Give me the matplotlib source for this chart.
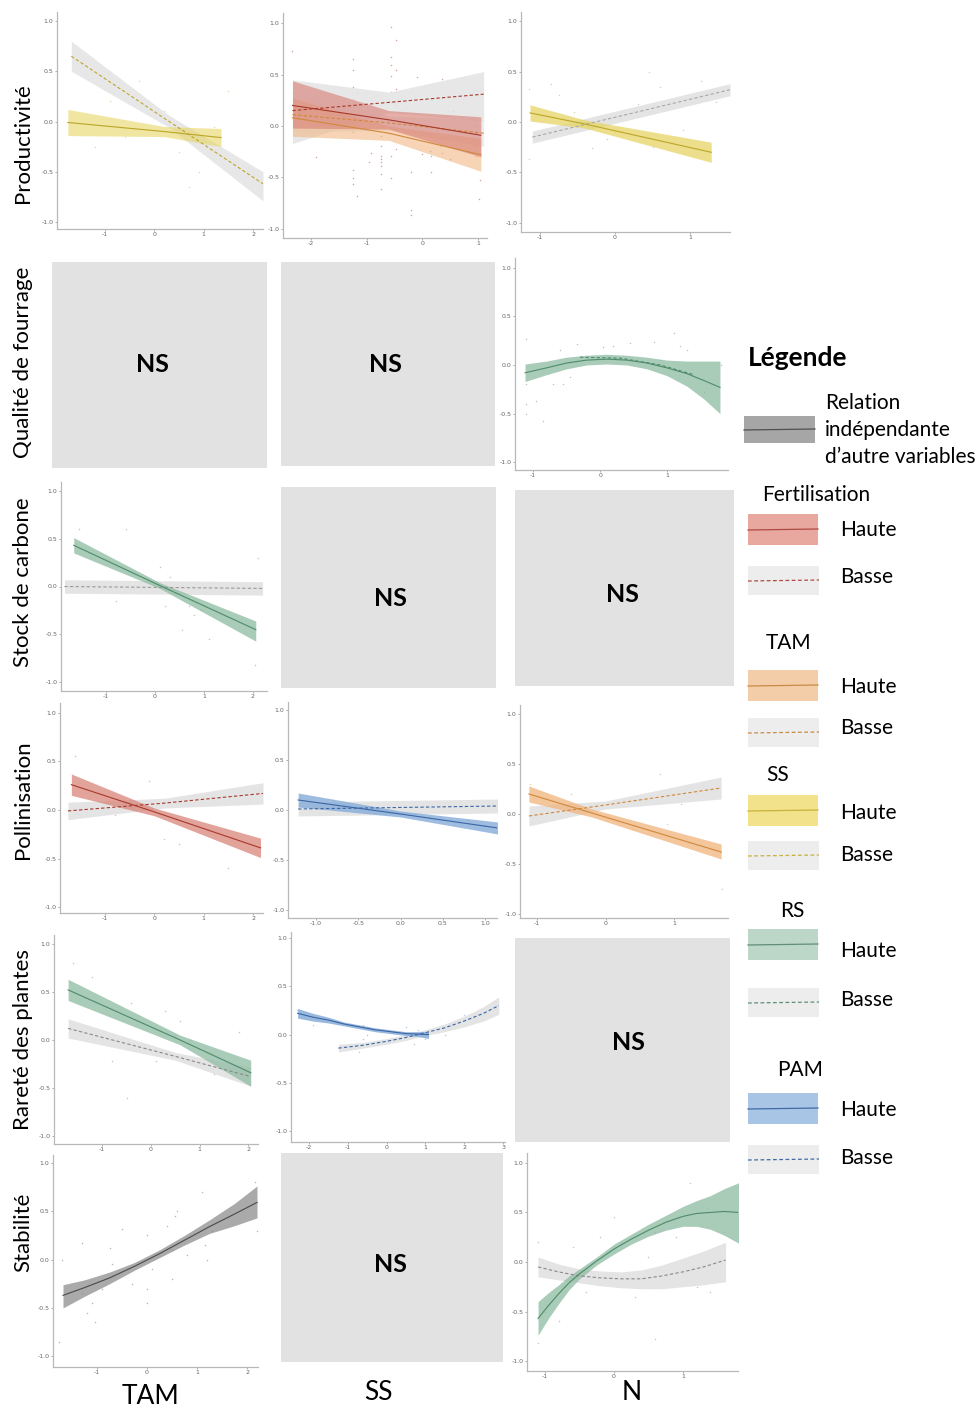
import matplotlib.pyplot as plt
from matplotlib.patches import Rectangle

W, H = 980, 1409
plt.rcParams['font.family'] = ['Lato', 'DejaVu Sans']

# colours
RED_FILL, RED_LINE = '#d9847a', '#a8382b'
ORANGE_FILL, ORANGE_LINE = '#f0b884', '#d0883c'
YELLOW_FILL, YELLOW_LINE = '#e6d463', '#bca628'
GREEN_FILL, GREEN_LINE = '#8dbba1', '#4f8a6b'
BLUE_FILL, BLUE_LINE = '#86acd9', '#3a66a6'
GREY_FILL, GREY_LINE = '#8e8e8e', '#4a4a4a'
LOW_FILL = '#e2e2e2'
NS_COLOR = '#e2e2e2'

# ---------------- data ----------------
# Productivite ~ TAM (SS haute / basse)
prod_tam_x_h = [-1.75, 0.2, 1.35]
prod_tam_fit_h = [-0.01, -0.10, -0.16]
prod_tam_min_h = [-0.14, -0.15, -0.25]
prod_tam_max_h = [0.12, -0.05, -0.07]
prod_tam_x_b = [-1.68, 0.3, 2.2]
prod_tam_fit_b = [0.65, 0.0, -0.62]
prod_tam_min_b = [0.50, -0.06, -0.79]
prod_tam_max_b = [0.80, 0.06, -0.50]
prod_tam_pts_x = [-1.4, -1.2, -0.9, -0.6, -0.3, 0.2, 0.5, 0.7, 0.9, 1.2, 1.5, 1.9]
prod_tam_pts_y = [0.55, -0.25, 0.2, -0.15, 0.4, 0.1, -0.3, -0.65, -0.5, -0.05, 0.3, -0.45]

# Productivite ~ SS (Fertilisation / TAM)
prod_ss_x = [-2.33, -0.6, 1.05]
prod_ss_fert_fit_h = [0.20, 0.06, -0.09]
prod_ss_fert_min_h = [-0.02, -0.03, -0.30]
prod_ss_fert_max_h = [0.44, 0.15, 0.09]
prod_ss_tam_fit_h = [0.08, -0.07, -0.28]
prod_ss_tam_min_h = [-0.10, -0.14, -0.44]
prod_ss_tam_max_h = [0.27, 0.0, -0.12]
prod_ss_x_b = [-2.33, -0.6, 1.1]
prod_ss_fert_fit_b = [0.15, 0.23, 0.31]
prod_ss_fert_min_b = [-0.17, 0.13, 0.05]
prod_ss_fert_max_b = [0.45, 0.33, 0.53]
prod_ss_tam_fit_b = [0.11, 0.03, -0.07]
prod_ss_tam_min_b = [-0.06, -0.04, -0.20]
prod_ss_tam_max_b = [0.28, 0.10, 0.06]
prod_ss_pts_x = [-2.33, -2.32, -1.9, -1.24, -1.24, -1.24, -1.24, -1.24, -1.24, -1.24, -1.24,
                 -1.18, -1.18, -0.95, -0.92, -0.74, -0.74, -0.74, -0.74, -0.74, -0.74, -0.74,
                 -0.74, -0.56, -0.56, -0.56, -0.56, -0.56, -0.56, -0.56, -0.56, -0.48, -0.48,
                 -0.48, -0.48, -0.48, -0.2, -0.2, -0.2, -0.09, 0.0, 0.13, 0.15, 0.15, 0.33,
                 0.36, 0.36, 0.5, 0.55, 0.96, 0.96, 0.96, 0.96, 0.96, 0.96, 1.03, 1.02]
prod_ss_pts_y = [0.73, 0.32, -0.30, 0.65, 0.55, 0.38, 0.26, -0.06, -0.43, -0.51, -0.56,
                 0.32, -0.68, -0.35, -0.26, -0.10, -0.19, -0.29, -0.32, -0.35, -0.39, -0.47,
                 -0.61, 0.96, 0.67, 0.59, 0.49, 0.33, 0.23, -0.29, -0.51, 0.84, 0.55,
                 0.36, 0.20, -0.22, -0.45, -0.82, -0.87, 0.48, -0.27, -0.24, -0.29, -0.45, -0.19,
                 -0.26, 0.46, -0.32, 0.15, 0.06, 0.0, -0.07, -0.13, -0.19, -0.29, -0.53, -0.71]

# Productivite ~ N (SS haute / basse)
prod_n_x_h = [-1.13, -0.4, 1.28]
prod_n_fit_h = [0.09, -0.02, -0.30]
prod_n_min_h = [0.01, -0.06, -0.40]
prod_n_max_h = [0.17, 0.02, -0.20]
prod_n_x_b = [-1.1, 1.53]
prod_n_fit_b = [-0.15, 0.32]
prod_n_min_b = [-0.21, 0.26]
prod_n_max_b = [-0.09, 0.38]
prod_n_pts_x = [-1.15, -0.85, -0.75, -0.55, -0.3, 0.0, 0.3, 0.45, 0.6, 1.15, 1.35, -1.15, 0.9, 0.5, -0.1]
prod_n_pts_y = [0.33, 0.38, 0.27, 0.1, -0.26, -0.1, 0.18, 0.5, 0.35, 0.41, 0.2, -0.37, -0.08, -0.25, -0.17]

# Qualite de fourrage ~ N (RS)
qual_n_x = [-1.12, -0.8, -0.5, -0.2, 0.1, 0.4, 0.7, 1.0, 1.3, 1.55, 1.79]
qual_n_fit = [-0.08, -0.03, 0.02, 0.05, 0.06, 0.05, 0.02, -0.03, -0.09, -0.16, -0.23]
qual_n_min = [-0.17, -0.10, -0.04, 0.0, 0.01, 0.0, -0.04, -0.11, -0.22, -0.35, -0.50]
qual_n_max = [0.01, 0.04, 0.08, 0.10, 0.11, 0.10, 0.08, 0.05, 0.04, 0.04, 0.04]
qual_n_x_b = [-0.3, 0.3, 0.9, 1.4]
qual_n_fit_b = [0.08, 0.07, 0.0, -0.10]
qual_n_pts_x = [-1.1, -1.1, -1.1, -1.1, -0.95, -0.85, -0.7, -0.55, -0.6, -0.35, 0.05, 0.2,
                0.45, 0.8, 1.1, 1.2, 1.3, 1.8, 0.9, 1.55, -0.45]
qual_n_pts_y = [0.27, -0.2, -0.4, -0.5, -0.37, -0.58, -0.2, -0.2, 0.15, 0.22, 0.18, 0.19,
                0.23, 0.24, 0.33, 0.2, 0.15, 0.0, 0.05, -0.28, -0.12]

# Stock de carbone ~ TAM (RS)
carb_tam_x_h = [-1.66, 0.1, 2.06]
carb_tam_fit_h = [0.43, 0.01, -0.45]
carb_tam_min_h = [0.35, -0.02, -0.57]
carb_tam_max_h = [0.51, 0.04, -0.36]
carb_tam_x_b = [-1.85, 2.2]
carb_tam_fit_b = [0.0, -0.02]
carb_tam_min_b = [-0.07, -0.09]
carb_tam_max_b = [0.07, 0.05]
carb_tam_pts_x = [-1.55, -0.6, -1.3, 0.1, 0.3, 0.2, 0.7, 0.8, 0.55, 0.95, 2.1, 2.05, -0.8, 1.5, 1.1]
carb_tam_pts_y = [0.6, 0.6, 0.3, 0.2, 0.1, -0.2, -0.2, -0.3, -0.45, -0.25, 0.3, -0.82, -0.15, 0.0, -0.55]

# Pollinisation ~ TAM (Fertilisation)
poll_tam_x_h = [-1.68, 0.0, 2.15]
poll_tam_fit_h = [0.26, -0.02, -0.39]
poll_tam_min_h = [0.15, -0.06, -0.49]
poll_tam_max_h = [0.37, 0.02, -0.29]
poll_tam_x_b = [-1.75, 0.2, 2.2]
poll_tam_fit_b = [-0.01, 0.07, 0.17]
poll_tam_min_b = [-0.10, 0.02, 0.06]
poll_tam_max_b = [0.08, 0.12, 0.28]
poll_tam_pts_x = [-1.6, -0.8, -1.5, -0.1, 0.2, 0.5, 1.0, 1.5, 2.1, -0.5, 0.8]
poll_tam_pts_y = [0.55, -0.05, -0.05, 0.3, -0.3, -0.35, 0.05, -0.6, 0.2, 0.1, 0.15]

# Pollinisation ~ SS (PAM)
poll_ss_x_h = [-1.21, 0.0, 1.15]
poll_ss_fit_h = [0.10, -0.04, -0.18]
poll_ss_min_h = [0.03, -0.07, -0.24]
poll_ss_max_h = [0.17, -0.01, -0.12]
poll_ss_x_b = [-1.21, 1.15]
poll_ss_fit_b = [0.01, 0.04]
poll_ss_min_b = [-0.06, -0.03]
poll_ss_max_b = [0.08, 0.11]
poll_ss_pts_x = [-1.2, -1.0, -0.6, -0.3, 0.0, 0.4, 0.8, 1.1, 1.0, -0.8, 0.6]
poll_ss_pts_y = [0.12, 0.05, 0.0, 0.02, -0.05, -0.1, -0.1, -0.22, -0.15, 0.1, 0.0]

# Pollinisation ~ N (TAM)
poll_n_x_h = [-1.12, -0.2, 1.69]
poll_n_fit_h = [0.20, 0.01, -0.38]
poll_n_min_h = [0.12, -0.03, -0.45]
poll_n_max_h = [0.28, 0.05, -0.30]
poll_n_x_b = [-1.12, 0.0, 1.69]
poll_n_fit_b = [-0.02, 0.09, 0.26]
poll_n_min_b = [-0.12, 0.05, 0.15]
poll_n_max_b = [0.08, 0.13, 0.37]
poll_n_pts_x = [-1.1, -0.9, -0.5, 0.1, 0.4, 0.8, 1.1, 1.4, 1.7, -0.7, 0.9]
poll_n_pts_y = [0.3, 0.05, 0.2, 0.1, -0.15, 0.4, 0.1, -0.3, -0.75, 0.1, -0.1]

# Rarete des plantes ~ TAM (RS)
rare_tam_x_h = [-1.7, 0.6, 2.05]
rare_tam_fit_h = [0.52, 0.0, -0.34]
rare_tam_min_h = [0.41, -0.05, -0.48]
rare_tam_max_h = [0.63, 0.05, -0.21]
rare_tam_x_b = [-1.7, 0.5, 2.05]
rare_tam_fit_b = [0.12, -0.17, -0.38]
rare_tam_min_b = [0.02, -0.21, -0.48]
rare_tam_max_b = [0.22, -0.13, -0.28]
rare_tam_pts_x = [-1.6, -1.2, -0.4, 0.3, 0.6, 0.8, 0.1, -0.8, -0.5, 0.4, 1.3, 1.8, 0.5, -1.2]
rare_tam_pts_y = [0.8, 0.65, 0.38, 0.3, 0.2, 0.0, -0.22, -0.22, -0.6, -0.12, -0.35, 0.08, 0.05, 0.1]

# Rarete des plantes ~ SS (PAM)
rare_ss_x_h = [-2.29, -1.9, -1.5, -1.1, -0.7, -0.3, 0.1, 0.5, 0.8, 1.08]
rare_ss_fit_h = [0.22, 0.18, 0.15, 0.11, 0.08, 0.05, 0.03, 0.01, 0.005, 0.0]
rare_ss_min_h = [0.17, 0.14, 0.12, 0.09, 0.06, 0.03, 0.01, -0.01, -0.02, -0.04]
rare_ss_max_h = [0.27, 0.22, 0.18, 0.13, 0.10, 0.07, 0.05, 0.03, 0.03, 0.03]
rare_ss_x_b = [-1.24, -0.6, 0.0, 0.5, 1.0, 1.5, 2.0, 2.5, 2.89]
rare_ss_fit_b = [-0.14, -0.11, -0.07, -0.03, 0.02, 0.07, 0.14, 0.22, 0.30]
rare_ss_min_b = [-0.18, -0.14, -0.10, -0.06, -0.01, 0.03, 0.08, 0.14, 0.21]
rare_ss_max_b = [-0.10, -0.08, -0.04, 0.0, 0.05, 0.11, 0.19, 0.29, 0.39]
rare_ss_pts_x = [-2.3, -1.9, -0.6, -0.5, -0.6, 0.2, 0.5, 0.8, 1.0, -1.2, -0.7, 0.7, 2.0, 2.8, 1.5]
rare_ss_pts_y = [0.25, 0.1, 0.1, 0.0, -0.05, 0.03, 0.08, 0.05, -0.05, -0.12, -0.18, -0.1, 0.2, 0.35, 0.0]

# Stabilite ~ TAM (relation independante)
stab_tam_x = [-1.68, -1.25, -0.75, -0.25, 0.25, 0.75, 1.25, 1.75, 2.2]
stab_tam_fit = [-0.37, -0.29, -0.19, -0.07, 0.06, 0.20, 0.34, 0.47, 0.59]
stab_tam_min = [-0.50, -0.38, -0.25, -0.11, 0.02, 0.15, 0.27, 0.35, 0.43]
stab_tam_max = [-0.26, -0.21, -0.13, -0.03, 0.10, 0.25, 0.41, 0.58, 0.76]
stab_tam_pts_x = [-1.75, -1.7, -1.3, -1.3, -1.2, -1.05, -0.75, -0.7, -0.5, -0.3, 0.0, 0.0, 0.0,
                  0.1, 0.4, 0.5, 0.55, 0.6, 0.5, 0.8, 1.1, 1.15, 1.2, 1.3, 2.2, 2.15, -0.9, -1.1]
stab_tam_pts_y = [-0.85, 0.0, 0.17, -0.35, -0.55, -0.65, 0.12, -0.05, 0.32, -0.25, 0.25, -0.3, -0.45,
                  -0.1, 0.35, 0.1, 0.45, 0.5, -0.2, 0.05, 0.7, 0.15, 0.0, 0.3, 0.3, 0.8, -0.3, -0.45]

# Stabilite ~ N (RS)
stab_n_x_h = [-1.1, -0.95, -0.8, -0.65, -0.5, -0.25, 0.0, 0.25, 0.5, 0.75, 1.0, 1.2, 1.4, 1.6, 1.81]
stab_n_fit_h = [-0.57, -0.44, -0.32, -0.21, -0.12, 0.01, 0.13, 0.23, 0.32, 0.40, 0.46, 0.49, 0.50, 0.51, 0.50]
stab_n_min_h = [-0.74, -0.57, -0.42, -0.28, -0.17, -0.03, 0.08, 0.18, 0.26, 0.32, 0.36, 0.36, 0.33, 0.27, 0.19]
stab_n_max_h = [-0.40, -0.31, -0.23, -0.14, -0.07, 0.05, 0.18, 0.28, 0.38, 0.47, 0.56, 0.62, 0.67, 0.74, 0.80]
stab_n_x_b = [-1.1, -0.8, -0.5, -0.2, 0.1, 0.4, 0.7, 1.0, 1.3, 1.62]
stab_n_fit_b = [-0.05, -0.10, -0.14, -0.16, -0.17, -0.17, -0.14, -0.10, -0.05, 0.02]
stab_n_min_b = [-0.15, -0.18, -0.21, -0.24, -0.26, -0.27, -0.27, -0.25, -0.23, -0.20]
stab_n_max_b = [0.05, -0.02, -0.07, -0.09, -0.10, -0.08, -0.03, 0.04, 0.11, 0.20]
stab_n_pts_x = [-1.1, -1.1, -1.0, -0.8, -0.6, -0.2, 0.0, 0.1, 0.3, 0.6, 0.6, 0.9, 1.1, 1.2, 1.4,
                1.35, 1.6, 0.5, -0.4]
stab_n_pts_y = [-0.82, 0.2, -0.5, -0.6, 0.15, 0.25, 0.45, 0.2, -0.35, 0.3, -0.78, 0.25, 0.8, -0.25,
                -0.3, 0.55, 0.3, 0.05, -0.3]

row_labels = ['Productivité', 'Qualité de fourrage', 'Stock de carbone',
              'Pollinisation', 'Rareté des plantes', 'Stabilité']
col_labels = ['TAM', 'SS', 'N']


def box(x0, y0, x1, y1):
    return [x0 / W, 1 - y1 / H, (x1 - x0) / W, (y1 - y0) / H]


def fit_band(ax, x, fit, lo, hi, fill, line, dashed=False, alpha=0.6):
    if lo is not None:
        ax.fill_between(x, lo, hi, color=fill, alpha=alpha, lw=0, zorder=2)
    ax.plot(x, fit, color=line, lw=0.8, ls=(0, (3, 2)) if dashed else '-', zorder=3)


def panel(fig, rect, xlim, ylim, xticks, xlabels, pts_x, pts_y, pts_color='#9a9a9a'):
    ax = fig.add_axes(box(*rect))
    ax.set_xlim(*xlim)
    ax.set_ylim(*ylim)
    ax.set_xticks(xticks)
    ax.set_xticklabels(xlabels)
    ax.set_yticks([-1, -0.5, 0, 0.5, 1])
    ax.set_yticklabels(['-1.0', '-0.5', '0.0', '0.5', '1.0'])
    for s in ['top', 'right']:
        ax.spines[s].set_visible(False)
    for s in ['left', 'bottom']:
        ax.spines[s].set_color('#b8b8b8')
        ax.spines[s].set_linewidth(0.9)
    ax.tick_params(labelsize=4.5, colors='#8a8a8a', labelcolor='#666666',
                   length=1.5, width=0.5, pad=1)
    for t in ax.get_xticklabels() + ax.get_yticklabels():
        t.set_family('DejaVu Sans')
    ax.scatter(pts_x, pts_y, s=1.2, color=pts_color, alpha=0.55, lw=0, zorder=1)
    return ax


def ns_panel(fig, rect):
    ax = fig.add_axes(box(*rect))
    ax.set_facecolor(NS_COLOR)
    ax.set_xticks([])
    ax.set_yticks([])
    for s in ax.spines.values():
        s.set_visible(False)
    return ax


fig = plt.figure(figsize=(W / 100, H / 100), dpi=100)

# row 1 : Productivite
ax = panel(fig, (57, 12, 263, 229), (-1.97, 2.2), (-1.07, 1.09), [-1, 0, 1, 2], ['-1', '0', '1', '2'],
           prod_tam_pts_x, prod_tam_pts_y, '#cfc27a')
fit_band(ax, prod_tam_x_b, prod_tam_fit_b, prod_tam_min_b, prod_tam_max_b, LOW_FILL, YELLOW_LINE, True, 0.8)
fit_band(ax, prod_tam_x_h, prod_tam_fit_h, prod_tam_min_h, prod_tam_max_h, YELLOW_FILL, YELLOW_LINE)

ax = panel(fig, (283, 13, 487, 238), (-2.5, 1.16), (-1.09, 1.1), [-2, -1, 0, 1], ['-2', '-1', '0', '1'],
           prod_ss_pts_x, prod_ss_pts_y, '#b0603f')
fit_band(ax, prod_ss_x_b, prod_ss_fert_fit_b, prod_ss_fert_min_b, prod_ss_fert_max_b, LOW_FILL, RED_LINE, True, 0.8)
fit_band(ax, prod_ss_x_b, prod_ss_tam_fit_b, prod_ss_tam_min_b, prod_ss_tam_max_b, LOW_FILL, ORANGE_LINE, True, 0.6)
fit_band(ax, prod_ss_x, prod_ss_tam_fit_h, prod_ss_tam_min_h, prod_ss_tam_max_h, ORANGE_FILL, ORANGE_LINE)
fit_band(ax, prod_ss_x, prod_ss_fert_fit_h, prod_ss_fert_min_h, prod_ss_fert_max_h, RED_FILL, RED_LINE, alpha=0.65)

ax = panel(fig, (521, 12, 730, 232), (-1.25, 1.53), (-1.09, 1.09), [-1, 0, 1], ['-1', '0', '1'],
           prod_n_pts_x, prod_n_pts_y, '#b8b07a')
fit_band(ax, prod_n_x_b, prod_n_fit_b, prod_n_min_b, prod_n_max_b, LOW_FILL, '#a8a8a8', True, 0.9)
fit_band(ax, prod_n_x_h, prod_n_fit_h, prod_n_min_h, prod_n_max_h, YELLOW_FILL, YELLOW_LINE, alpha=0.75)

# row 2 : Qualite de fourrage
ns_panel(fig, (52, 262, 267, 468))
ns_panel(fig, (281, 262, 495, 466))
ax = panel(fig, (515, 258, 728, 470), (-1.27, 1.91), (-1.08, 1.1), [-1, 0, 1], ['-1', '0', '1'],
           qual_n_pts_x, qual_n_pts_y, '#7f9f8c')
fit_band(ax, qual_n_x, qual_n_fit, qual_n_min, qual_n_max, GREEN_FILL, GREEN_LINE, alpha=0.75)
fit_band(ax, qual_n_x_b, qual_n_fit_b, None, None, None, GREEN_LINE, True)

# row 3 : Stock de carbone
ax = panel(fig, (61, 482, 267, 691), (-1.92, 2.29), (-1.09, 1.09), [-1, 0, 1, 2], ['-1', '0', '1', '2'],
           carb_tam_pts_x, carb_tam_pts_y)
fit_band(ax, carb_tam_x_b, carb_tam_fit_b, carb_tam_min_b, carb_tam_max_b, LOW_FILL, '#9a9a9a', True, 0.9)
fit_band(ax, carb_tam_x_h, carb_tam_fit_h, carb_tam_min_h, carb_tam_max_h, GREEN_FILL, GREEN_LINE, alpha=0.75)
ns_panel(fig, (281, 487, 496, 688))
ns_panel(fig, (515, 490, 734, 686))

# row 4 : Pollinisation
ax = panel(fig, (60, 703, 263, 913), (-1.91, 2.2), (-1.06, 1.1), [-1, 0, 1, 2], ['-1', '0', '1', '2'],
           poll_tam_pts_x, poll_tam_pts_y, '#c08a80')
fit_band(ax, poll_tam_x_b, poll_tam_fit_b, poll_tam_min_b, poll_tam_max_b, LOW_FILL, RED_LINE, True, 0.9)
fit_band(ax, poll_tam_x_h, poll_tam_fit_h, poll_tam_min_h, poll_tam_max_h, RED_FILL, RED_LINE, alpha=0.75)

ax = panel(fig, (288, 702, 497, 918), (-1.33, 1.14), (-1.08, 1.08), [-1, -0.5, 0, 0.5, 1],
           ['-1.0', '-0.5', '0.0', '0.5', '1.0'], poll_ss_pts_x, poll_ss_pts_y, '#8aa0bf')
fit_band(ax, poll_ss_x_b, poll_ss_fit_b, poll_ss_min_b, poll_ss_max_b, LOW_FILL, BLUE_LINE, True, 0.9)
fit_band(ax, poll_ss_x_h, poll_ss_fit_h, poll_ss_min_h, poll_ss_max_h, BLUE_FILL, BLUE_LINE, alpha=0.8)

ax = panel(fig, (520, 705, 728, 918), (-1.25, 1.79), (-1.04, 1.09), [-1, 0, 1], ['-1', '0', '1'],
           poll_n_pts_x, poll_n_pts_y, '#c9a27a')
fit_band(ax, poll_n_x_b, poll_n_fit_b, poll_n_min_b, poll_n_max_b, LOW_FILL, ORANGE_LINE, True, 0.9)
fit_band(ax, poll_n_x_h, poll_n_fit_h, poll_n_min_h, poll_n_max_h, ORANGE_FILL, ORANGE_LINE, alpha=0.8)

# row 5 : Rarete des plantes
ax = panel(fig, (54, 935, 258, 1144), (-1.99, 2.2), (-1.08, 1.09), [-1, 0, 1, 2], ['-1', '0', '1', '2'],
           rare_tam_pts_x, rare_tam_pts_y)
fit_band(ax, rare_tam_x_b, rare_tam_fit_b, rare_tam_min_b, rare_tam_max_b, LOW_FILL, '#8a8a8a', True, 0.9)
fit_band(ax, rare_tam_x_h, rare_tam_fit_h, rare_tam_min_h, rare_tam_max_h, GREEN_FILL, GREEN_LINE, alpha=0.75)

ax = panel(fig, (291, 932, 505, 1142), (-2.46, 3.05), (-1.11, 1.06), [-2, -1, 0, 1, 2, 3],
           ['-2', '-1', '0', '1', '2', '3'], rare_ss_pts_x, rare_ss_pts_y, '#8aa0bf')
fit_band(ax, rare_ss_x_b, rare_ss_fit_b, rare_ss_min_b, rare_ss_max_b, LOW_FILL, BLUE_LINE, True, 0.9)
fit_band(ax, rare_ss_x_h, rare_ss_fit_h, rare_ss_min_h, rare_ss_max_h, BLUE_FILL, BLUE_LINE, alpha=0.85)
ns_panel(fig, (515, 938, 730, 1142))

# row 6 : Stabilite
ax = panel(fig, (53, 1155, 258, 1367), (-1.88, 2.22), (-1.11, 1.08), [-1, 0, 1, 2], ['-1', '0', '1', '2'],
           stab_tam_pts_x, stab_tam_pts_y, '#7a7a7a')
fit_band(ax, stab_tam_x, stab_tam_fit, stab_tam_min, stab_tam_max, GREY_FILL, GREY_LINE, alpha=0.75)
ns_panel(fig, (281, 1153, 503, 1362))
ax = panel(fig, (527, 1153, 738, 1371), (-1.26, 1.8), (-1.1, 1.1), [-1, 0, 1], ['-1', '0', '1'],
           stab_n_pts_x, stab_n_pts_y)
fit_band(ax, stab_n_x_b, stab_n_fit_b, stab_n_min_b, stab_n_max_b, LOW_FILL, '#8a8a8a', True, 0.9)
fit_band(ax, stab_n_x_h, stab_n_fit_h, stab_n_min_h, stab_n_max_h, GREEN_FILL, GREEN_LINE, alpha=0.75)

# overlay for labels, NS marks and legend (pixel coordinates)
ov = fig.add_axes([0, 0, 1, 1], zorder=10)
ov.patch.set_alpha(0)
ov.set_xlim(0, W)
ov.set_ylim(H, 0)
ov.axis('off')

for label, yc in zip(row_labels, [143, 362, 582, 800, 1040, 1232]):
    ov.text(23, yc, label, rotation=90, ha='center', va='center', fontsize=16)
for label, xc, yc in zip(col_labels, [150, 378, 632], [1396, 1392, 1392]):
    ov.text(xc, yc, label, ha='center', va='center', fontsize=19)
for xc, yc in [(152, 365), (385, 365), (390, 598), (622, 595), (628, 1043), (390, 1265)]:
    ov.text(xc, yc, 'NS', ha='center', va='center', fontsize=18, fontweight='bold')

# legend
ov.text(748, 358, 'Légende', ha='left', va='center', fontsize=19, fontweight='bold')
ov.add_patch(Rectangle((744, 416), 71, 27, color='#a6a6a6', lw=0))
ov.plot([744, 815], [430, 429], color='#505050', lw=0.9)
for txt, yc in [('Relation', 403), ('indépendante', 430), ('d’autre variables', 457)]:
    ov.text(825, yc, txt, ha='left', va='center', fontsize=15)

legend_groups = [
    ('Fertilisation', 762, 495, '#e8a8a0', '#b04a40', 514, 530, 566, 577),
    ('TAM', 766, 643, '#f3cda8', '#c98a45', 670, 687, 718, 728),
    ('SS', 766, 775, '#f3e28c', '#c7b23a', 795, 813, 841, 855),
    ('RS', 780, 911, '#bcd7c8', '#5f8e74', 929, 951, 988, 1000),
    ('PAM', 777, 1070, '#a9c5e6', '#3f6aa3', 1093, 1110, 1145, 1158),
]
for name, tx, ty, fill, line, hy, hty, by, bty in legend_groups:
    ov.text(tx, ty, name, ha='left', va='center', fontsize=15)
    ov.add_patch(Rectangle((748, hy), 70, 31, color=fill, lw=0))
    ov.plot([748, 818], [hy + 16, hy + 15], color=line, lw=0.9)
    ov.text(840, hty, 'Haute', ha='left', va='center', fontsize=15)
    ov.add_patch(Rectangle((748, by), 71, 29, color='#ededed', lw=0))
    ov.plot([748, 819], [by + 15, by + 14], color=line, lw=0.9, ls=(0, (3, 2)))
    ov.text(840, bty, 'Basse', ha='left', va='center', fontsize=15)

fig.savefig('out.png', dpi=100)
